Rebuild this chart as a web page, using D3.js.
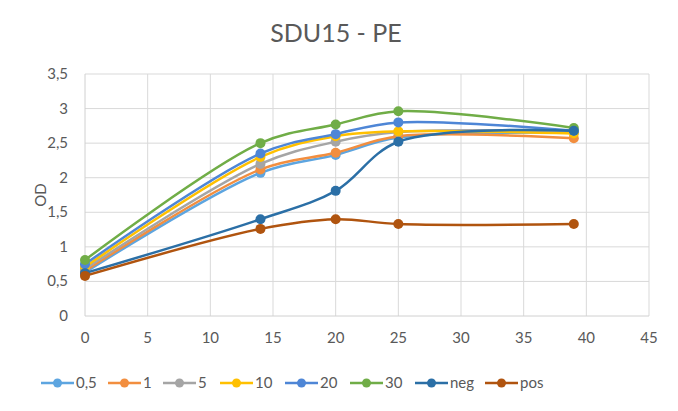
<!DOCTYPE html>
<html>
<head>
<meta charset="utf-8">
<script src="https://cdn.jsdelivr.net/npm/d3@7"></script>
<style>
  body { margin: 0; background: #fff; }
  svg { font-family: Lato, "Open Sans", "Liberation Sans", sans-serif; }
</style>
</head>
<body>
<div id="chart"></div>
<script>
// datos
const days = [0, 14, 20, 25, 39];
const seriesNames = ["0,5", "1", "5", "10", "20", "30", "neg", "pos"];
const s05 = [0.63, 2.07, 2.33, 2.58, 2.65];
const s1 = [0.65, 2.12, 2.36, 2.6, 2.57];
const s5 = [0.68, 2.2, 2.52, 2.66, 2.67];
const s10 = [0.71, 2.3, 2.6, 2.67, 2.64];
const s20 = [0.75, 2.35, 2.63, 2.8, 2.68];
const s30 = [0.81, 2.5, 2.77, 2.96, 2.72];
const sNeg = [0.62, 1.4, 1.81, 2.52, 2.68];
const sPos = [0.58, 1.26, 1.4, 1.33, 1.33];
const colors = ["#5DA5E0", "#F28E3F", "#A5A5A5", "#FFC000", "#4E86D6", "#70AD47", "#2B6FA6", "#B0540F"];
const xTicks = [0, 5, 10, 15, 20, 25, 30, 35, 40, 45];
const yTicks = [0, 0.5, 1, 1.5, 2, 2.5, 3, 3.5];

const allSeries = [s05, s1, s5, s10, s20, s30, sNeg, sPos];
const width = 678, height = 411;
const margin = { left: 85, right: 29, top: 74, bottom: 95 };

const svg = d3.select("#chart").append("svg")
  .attr("width", width)
  .attr("height", height);

const x = d3.scaleLinear().domain([0, 45]).range([margin.left, width - margin.right]);
const y = d3.scaleLinear().domain([0, 3.5]).range([height - margin.bottom, margin.top]);

// titulo
svg.append("text")
  .attr("x", 336)
  .attr("y", 42)
  .attr("text-anchor", "middle")
  .style("font-size", "25px")
  .style("fill", "#595959")
  .text("SDU15 - PE");

// cuadricula
svg.append("g").selectAll("line.h")
  .data(yTicks.slice(1))
  .enter().append("line")
  .attr("x1", x(0)).attr("x2", x(45))
  .attr("y1", d => y(d)).attr("y2", d => y(d))
  .attr("stroke", "#D9D9D9").attr("stroke-width", 1);

svg.append("g").selectAll("line.v")
  .data(xTicks.slice(1))
  .enter().append("line")
  .attr("x1", d => x(d)).attr("x2", d => x(d))
  .attr("y1", y(0)).attr("y2", y(3.5))
  .attr("stroke", "#D9D9D9").attr("stroke-width", 1);

// ejes
svg.append("line")
  .attr("x1", x(0)).attr("x2", x(45))
  .attr("y1", y(0)).attr("y2", y(0))
  .attr("stroke", "#D0D0D0");
svg.append("line")
  .attr("x1", x(0)).attr("x2", x(0))
  .attr("y1", y(0)).attr("y2", y(3.5))
  .attr("stroke", "#D0D0D0");

const fmt = d => String(d).replace(".", ",");

svg.append("g").selectAll("text")
  .data(yTicks)
  .enter().append("text")
  .attr("x", x(0) - 17)
  .attr("y", d => y(d) + 5)
  .attr("text-anchor", "end")
  .style("font-size", "15px")
  .style("fill", "#595959")
  .text(fmt);

svg.append("g").selectAll("text")
  .data(xTicks)
  .enter().append("text")
  .attr("x", d => x(d))
  .attr("y", y(0) + 27)
  .attr("text-anchor", "middle")
  .style("font-size", "15px")
  .style("fill", "#595959")
  .text(d => d);

svg.append("text")
  .attr("transform", `translate(46,${(y(0) + y(3.5)) / 2}) rotate(-90)`)
  .attr("text-anchor", "middle")
  .style("font-size", "15px")
  .style("fill", "#595959")
  .text("OD");

// lineas suavizadas
const line = d3.line()
  .x((d, i) => x(days[i]))
  .y(d => y(d))
  .curve(d3.curveCatmullRom.alpha(0.5));

const groups = svg.append("g").selectAll("g")
  .data(allSeries)
  .enter().append("g");

groups.append("path")
  .attr("d", d => line(d))
  .attr("fill", "none")
  .attr("stroke", (d, i) => colors[i])
  .attr("stroke-width", 2.5);

groups.each(function(vals, si) {
  d3.select(this).selectAll("circle")
    .data(vals)
    .enter().append("circle")
    .attr("cx", (d, i) => x(days[i]))
    .attr("cy", d => y(d))
    .attr("r", 5)
    .attr("fill", colors[si]);
});

// leyenda
const legendX = [41, 108, 163, 220, 285, 350, 415, 485];
const legend = svg.append("g").selectAll("g")
  .data(seriesNames)
  .enter().append("g")
  .attr("transform", (d, i) => `translate(${legendX[i]},383)`);

legend.append("line")
  .attr("x1", 0).attr("x2", 33)
  .attr("stroke", (d, i) => colors[i])
  .attr("stroke-width", 2.5);
legend.append("circle")
  .attr("cx", 16.5).attr("r", 4.5)
  .attr("fill", (d, i) => colors[i]);
legend.append("text")
  .attr("x", 35)
  .attr("y", 5)
  .style("font-size", "15px")
  .style("fill", "#595959")
  .text(d => d);
</script>
</body>
</html>
